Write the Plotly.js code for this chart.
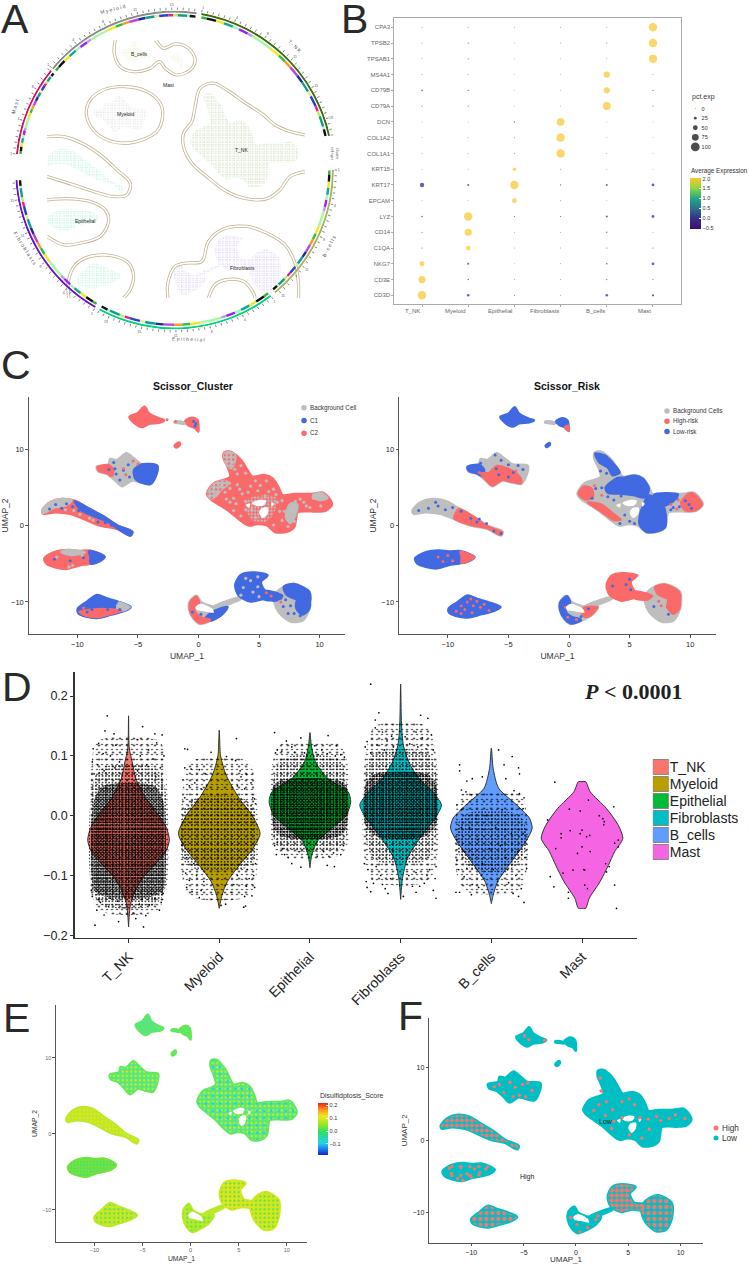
<!DOCTYPE html>
<html><head><meta charset="utf-8"><script src="https://cdn.plot.ly/plotly-3.0.1.min.js"></script>
<style>html,body{margin:0;padding:0;background:#fff}</style></head>
<body><div id="chart" style="width:749px;height:1264px"></div>
<script>
// ---------- DATA: cell types ----------
const cellTypes=['T_NK','Myeloid','Epithelial','Fibroblasts','B_cells','Mast'];
const typeColors=['#F8766D','#B79F00','#00BA38','#00BFC4','#619CFF','#F564E3'];
// ---------- DATA: panel B dot plot ----------
const genes=['CPA3','TPSB2','TPSAB1','MS4A1','CD79B','CD79A','DCN','COL1A2','COL1A1','KRT15','KRT17','EPCAM','LYZ','CD14','C1QA','NKG7','CD3E','CD3D'];
const pctExp=[[1,2,1,1,2,95],[2,5,1,1,3,95],[2,4,1,1,2,93],[2,2,1,1,70,2],[10,7,1,1,68,7],[3,4,1,1,90,3],[0,0,6,85,0,0],[0,1,2,92,1,0],[1,1,2,95,2,1],[0,0,35,2,1,0],[45,15,95,5,14,25],[0,0,50,2,0,0],[10,96,3,3,15,25],[4,80,1,1,6,2],[5,47,1,1,5,5],[52,15,0,1,10,24],[80,8,1,1,5,3],[95,22,3,2,22,18]];
const markerOwner=[5,5,5,4,4,4,3,3,3,2,2,2,1,1,1,0,0,0];
const pctLevels=['0','25','50','75','100'];
const exprLow=-0.4, exprHigh=2.0;
// ---------- DATA: UMAP cluster outlines ----------
const tnk=[[0.72,4.22],[1.27,5.54],[2.04,5.97],[2.65,6.41],[2.37,7.94],[2.10,8.82],[2.15,9.61],[2.65,9.69],[3.06,9.26],[3.61,8.38],[4.03,7.29],[4.44,6.41],[5.41,6.63],[6.10,6.19],[6.57,5.10],[6.92,4.00],[7.89,4.14],[8.99,4.14],[9.68,4.22],[10.23,4.31],[10.79,3.57],[11.0,2.78],[10.51,2.03],[9.68,1.90],[8.86,1.95],[8.17,1.82],[8.03,0.94],[7.89,-0.15],[7.34,-0.72],[6.37,-0.81],[5.68,0.07],[4.86,0.28],[4.17,0.07],[3.48,0.72],[2.65,1.82],[1.82,2.69],[0.99,3.57]];
const tnkHoles=[[[4.4,3.0],[5.0,3.4],[5.6,3.3],[5.4,2.7],[4.8,2.6]],[[5.2,2.3],[5.75,2.4],[5.7,1.5],[5.3,1.0],[5.0,1.7]],[[3.9,2.7],[4.25,2.9],[4.2,2.4]],[[6.0,3.1],[6.25,2.9],[6.05,2.5]]];
const myeloid=[[-8.39,7.72],[-7.42,8.03],[-7.28,8.73],[-6.73,8.60],[-5.96,9.47],[-5.35,8.82],[-4.66,8.03],[-3.42,7.85],[-3.48,6.85],[-3.97,5.54],[-4.80,5.75],[-5.49,5.97],[-6.32,5.23],[-6.87,5.97],[-7.56,6.85],[-8.25,7.15]];
const epi1=[[-12.88,2.03],[-12.25,3.04],[-11.28,3.48],[-10.18,3.22],[-9.08,2.25],[-7.83,1.16],[-6.73,-0.02],[-5.49,-0.81],[-5.63,-1.25],[-6.73,-0.37],[-8.11,0.07],[-9.49,0.94],[-10.59,1.60],[-11.83,1.82],[-12.8,1.60]];
const epi2=[[-12.72,-4.31],[-11.97,-3.52],[-10.73,-3.22],[-9.90,-3.35],[-8.94,-3.30],[-8.25,-3.65],[-7.78,-4.09],[-8.25,-4.66],[-9.08,-4.97],[-9.90,-5.19],[-10.87,-5.62],[-11.83,-5.40],[-12.52,-4.97]];
const epi3=[[-9.96,-10.88],[-9.21,-10.0],[-8.39,-9.12],[-7.56,-9.56],[-6.46,-10.09],[-5.63,-10.66],[-6.18,-11.18],[-7.28,-11.66],[-8.39,-12.06],[-9.35,-11.84],[-9.90,-11.44]];
const mast1=[[-5.68,14.29],[-5.01,14.73],[-4.47,15.6],[-4.11,14.73],[-3.28,14.07],[-2.87,13.85],[-3.28,13.54],[-4.11,13.41],[-4.66,12.98],[-5.21,13.41]];
const mast2=[[-1.08,13.72],[-0.52,14.16],[-0.11,13.85],[-0.03,13.19],[-0.02,12.4],[-0.25,12.84],[-0.80,13.19]];
const mast3=[[-1.95,10.5],[-1.6,10.9],[-1.55,10.65],[-1.85,10.3]];
const mastBridge=[[-1.95,13.65],[-1.5,13.65],[-1.2,13.5],[-1.2,13.4],[-1.6,13.5],[-1.95,13.55]];
const fibro1=[[-0.72,-10.0],[-0.17,-9.21],[0.17,-10.0],[1.27,-10.66],[2.37,-10.66],[1.82,-11.75],[1.0,-12.41],[0.17,-12.85],[-0.39,-12.19],[-0.74,-11.09]];
const fibro1Hole=[[-0.25,-10.66],[0.17,-10.22],[1.13,-10.88],[1.27,-11.4],[0.44,-11.2],[-0.11,-11.09]];
const fibroBridge=[[1.27,-10.62],[3.48,-9.42],[3.52,-9.55],[1.38,-10.74]];
const fibroLeft=[[3.06,-7.81],[3.48,-6.5],[4.44,-6.15],[5.68,-6.5],[5.13,-7.37],[5.54,-8.69],[6.51,-8.91],[6.5,-9.7],[5.41,-9.56],[4.30,-9.91],[3.34,-9.12]];
const fibroRight=[[6.4,-8.9],[7.06,-8.03],[7.89,-7.68],[9.13,-8.69],[9.13,-10.88],[8.58,-12.41],[7.61,-12.54],[6.65,-11.31],[6.29,-10],[6.3,-9.5]];
const allClusters=[tnk,myeloid,epi1,epi2,epi3,mast1,mast2,mast3,mastBridge,fibro1,fibroBridge,fibroLeft,fibroRight];
const allHoles=[...tnkHoles,fibro1Hole];
// ---------- DATA: panel A contours (UMAP units) ----------
const contourTop=[[-6.28,15.59],[-6.38,14.11],[-5.81,12.63],[-4.56,12.07],[-3.0,12.44],[-2.13,13.19],[-1.59,12.44],[-0.5,11.70],[0.75,12.26],[1.22,13.37],[0.59,14.67],[-0.66,15.15],[-1.75,14.67],[-2.38,15.41],[-2.53,15.59]];
const contourMyeloid=[[-9.0,7.44],[-8.63,8.93],[-7.38,10.04],[-5.34,10.41],[-3.31,9.85],[-2.06,8.56],[-1.84,7.07],[-2.38,5.41],[-3.78,4.48],[-5.5,4.11],[-7.38,4.67],[-8.47,5.78],[-9.0,7.44]];
const contourEpi1=[[-12.69,4.85],[-11.13,4.85],[-9.41,4.11],[-7.69,2.81],[-6.13,1.15],[-4.88,-0.33],[-5.19,-1.63],[-6.59,-1.81],[-8.31,-1.26],[-10.19,-0.52],[-12.69,0.41]];
const contourEpi2=[[-12.69,-2.19],[-10.81,-2.07],[-8.63,-2.37],[-7.22,-3.30],[-6.91,-4.59],[-7.69,-6.26],[-9.56,-7.0],[-11.13,-7.19],[-12.69,-6.26]];
const contourEpi3=[[-10.66,-13.11],[-10.66,-11.07],[-10.03,-9.41],[-8.63,-8.48],[-6.59,-8.41],[-5.03,-9.22],[-4.56,-10.70],[-4.88,-12.19],[-5.5,-13.11]];
const contourTnk=[[11.53,5.04],[10.13,5.41],[8.72,6.15],[7.63,7.26],[5.75,8.74],[4.19,10.04],[2.94,10.78],[1.69,10.22],[1.22,8.19],[0.91,6.52],[0.13,5.22],[0.13,3.74],[0.91,1.89],[2.31,0.41],[4.19,-1.26],[6.06,-2.07],[7.94,-2.07],[9.19,-1.07],[10.13,0.41],[11.53,0.96]];
const contourFibro=[[-1.34,-13.11],[-1.34,-11.44],[-0.66,-9.59],[0.44,-9.22],[1.84,-9.04],[2.47,-6.81],[3.88,-5.44],[6.06,-5.15],[7.94,-5.89],[9.66,-7.19],[10.59,-9.22],[10.91,-11.44],[10.91,-13.11]];
const contourArch=[[2.47,-13.11],[3.09,-11.63],[4.19,-11.07],[5.75,-11.26],[6.69,-12.56],[6.84,-13.11]];
const allContours=[contourTop,contourMyeloid,contourEpi1,contourEpi2,contourEpi3,contourTnk,contourFibro,contourArch];
const aLabels=[['T_NK',5.6,3.4],['Fibroblasts',5.7,-9.8],['Epithelial',-9.1,-4.5],['Myeloid',-5.35,7.35],['B_cells',-4.0,14.0],['Mast',-1.3,10.6]];
// ---------- DATA: panel A ring ----------
const sectorNames=['T_NK','B_cells','Epithelial','Fibroblasts','Mast','Myeloid'];
const sectorStart=[9.8,90,142.6,210,275.8,309.8];
const sectorEnd=[77.5,140.6,208.3,266.4,308.8,368];
const sectorColors=['#3c6a0d','#a9b25f','#00d27f','#6a10d0','#d6105f','#8a8a8a'];
const ringColors=['#35b02f','#111111','#f0ea20','#12a98c','#a7f3c8','#a020f0','#b79cf0','#a8f8a0','#f0ea20','#2cc040','#f0a020','#c040e0','#1a2a90','#109a90','#e0f090','#2a40d0','#f01a90','#b8f060','#10a080','#b0f0d0','#111111'];
const ringShare=[2,3.5,3,3.5,2.5,3.5,2,8,4,3,3,4,3,4,2,4,2,2,4,1,2.5];
// ---------- DATA: panel C patches ----------
const pEpi1Upper=[[-10.2,3.2],[-9.1,2.25],[-7.8,1.16],[-6.7,-0.02],[-5.49,-0.81],[-5.63,-1.25],[-6.6,-0.4],[-7.4,0.5],[-8.6,1.3],[-9.6,2.0]];
const pEpi1Tip=[[-12.88,2.03],[-12.25,3.04],[-11.28,3.48],[-10.5,3.3],[-11,2.7],[-12,2.4],[-12.8,1.7]];
const pEpi1Right=[[-9.1,2.25],[-7.8,1.16],[-6.73,-0.02],[-5.49,-0.81],[-5.63,-1.25],[-6.73,-0.37],[-8.11,0.07],[-9.49,0.94]];
const pEpi2Top=[[-11.3,-3.45],[-10.73,-3.22],[-9.90,-3.35],[-9.4,-3.5],[-10.5,-3.8]];
const pEpi2Tip=[[-9.0,-3.35],[-8.25,-3.65],[-7.78,-4.09],[-8.25,-4.66],[-8.9,-4.9],[-8.9,-4.1]];
const pEpi3Low=[[-9.9,-11.3],[-8.7,-10.9],[-7.2,-10.9],[-6.3,-11.2],[-7.3,-11.66],[-8.39,-12.06],[-9.35,-11.84]];
const pEpi3Grey=[[-6.6,-10.0],[-5.63,-10.66],[-6.18,-11.18],[-6.9,-11.2],[-6.7,-10.6]];
const pMyelLeft=[[-8.39,7.72],[-7.42,8.03],[-7.0,7.4],[-7.1,6.5],[-7.6,6.85],[-8.25,7.15]];
const pMyelRight=[[-5.3,7.3],[-4.66,8.03],[-3.42,7.85],[-3.48,6.85],[-3.97,5.54],[-4.80,5.75],[-5.2,6.2]];
const pMyelLower=[[-7.3,6.9],[-6.6,7.0],[-6.0,7.9],[-5.1,7.6],[-4.3,6.9],[-3.9,6.0],[-3.97,5.54],[-4.80,5.75],[-5.49,5.97],[-6.32,5.23],[-6.87,5.97]];
const pFibro1Rim=[[-0.72,-10.0],[-0.17,-9.21],[0.1,-10.1],[-0.3,-10.6],[-0.2,-11.4],[0.3,-12.0],[0.9,-12.2],[1.0,-12.41],[0.17,-12.85],[-0.39,-12.19],[-0.74,-11.09]];
const pFibro1Blue=[[1.0,-11.5],[1.8,-10.9],[2.37,-10.66],[1.82,-11.75],[1.0,-12.41],[0.6,-12.2]];
const pFibro1End=[[1.2,-10.7],[2.37,-10.66],[1.82,-11.75],[1.3,-12.0],[1.0,-11.3]];
const pRightUp=[[7.06,-8.03],[7.89,-7.68],[9.13,-8.69],[9.13,-10.0],[8.1,-9.6],[7.3,-9.0]];
const pRightMid=[[8.2,-9.7],[9.13,-9.9],[9.13,-10.88],[8.6,-11.6],[8.1,-10.8]];
const pBridgeLeftLobe=[[5.4,-8.6],[6.5,-8.9],[6.9,-9.2],[6.5,-9.7],[5.4,-9.56]];
const pTnkLeft=[[0.72,4.22],[1.27,5.54],[2.04,5.97],[2.65,5.6],[1.9,4.7],[1.5,3.9],[1.0,3.5]];
const pTnkTop=[[2.15,9.61],[2.65,9.69],[3.06,9.26],[3.0,8.2],[2.7,7.5],[2.3,8.0],[2.1,8.82]];
const pTnkRight=[[9.5,4.2],[10.23,4.31],[10.7,3.6],[10.0,3.3],[9.4,3.7]];
const pTnkMid=[[7.6,3.0],[8.2,2.8],[8.03,1.3],[7.6,0.3],[7.2,1.0],[7.3,2.2]];
const pTnkHoleEdge=[[3.9,3.0],[4.6,3.9],[6.3,3.9],[6.4,2.5],[6.1,1.3],[5.3,0.4],[4.3,0.9],[4.0,1.9]];
const pRiskCentre=[[3.0,5.0],[4.0,6.3],[4.6,6.35],[5.41,6.6],[6.1,6.19],[6.6,4.9],[6.3,3.7],[5.3,4.0],[4.2,4.2],[3.2,4.3]];
const pRiskTop=[[2.15,9.5],[3.0,9.2],[3.6,8.3],[4.2,7.0],[3.6,6.6],[3.2,7.6],[2.5,8.3]];
const pRiskBlob=[[6.5,4.0],[7.4,3.5],[7.9,2.2],[7.95,-0.2],[7.34,-0.72],[6.37,-0.81],[5.8,0.2],[5.9,1.8],[6.2,3.0]];
const pRiskStrip=[[7.0,4.1],[9.0,4.14],[8.6,3.2],[7.8,2.6],[7.4,3.2]];
const pRiskLeftRed=[[0.75,4.2],[1.2,5.2],[1.9,4.9],[2.0,3.7],[1.3,3.4]];
const pRiskLowRed=[[1.5,3.1],[2.6,2.9],[3.7,1.6],[4.3,0.8],[3.7,0.7],[2.65,1.8]];
const pRiskEndRed=[[9.8,4.2],[10.23,4.31],[11,2.8],[10.5,2.03],[9.6,1.95],[9.2,3.0]];
const pRiskMast2Tail=[[-0.4,12.9],[-0.03,13.2],[-0.02,12.4],[-0.25,12.6]];
// ---------- DATA: panel C speckles ----------
const c1GreyDots=[[1.2,4.6],[1.9,5.3],[2.6,4.9],[3.2,5.4],[3.6,4.2],[2.9,3.6],[3.9,3.2],[4.9,4.6],[5.5,3.9],[6.2,4.8],[5.6,5.9],[3.0,7.4],[3.5,7.9],[7.7,2.7],[7.4,1.3],[8.4,3.5],[8.9,2.6],[9.5,3.6],[6.7,1.9],[4.7,1.1],[5.2,1.6],[3.5,1.3],[2.9,2.0],[6.9,3.3],[7.9,0.6],[3.1,2.9],[4.4,2.1],[9.9,3.9],[2.3,3.5],[4.3,5.2],[6.5,3.1],[1.5,4.2],[2.2,4.4],[3.9,2.1],[5.1,5.3],[8.0,3.2],[3.4,4.8],[2.6,3.1],[4.1,4.4],[5.8,4.5],[6.4,4.1],[7.1,1.9],[6.9,0.7],[6.2,0.1],[7.4,-0.1],[8.7,3.1],[9.2,2.4],[10.1,2.6],[4.7,5.9],[3.9,6.9],[3.2,6.8],[2.8,8.3],[-11.5,3.1],[-9.8,1.5],[-10.3,2.0],[-12.2,2.2],[-11.0,2.1],[-8.7,0.7],[-9.0,1.0],[-11.7,-4.1],[-10.4,-5.2],[-9.6,-3.9],[-10.7,-5.4],[-6.7,-10.5],[-5.9,-10.8],[0.4,-11.7],[0.9,-10.5],[1.5,-10.6],[3.7,-8.1],[4.3,-7.2],[4.5,-8.7],[3.5,-9.1],[5.0,-9.3],[4.9,-6.7],[3.9,-6.9],[4.9,-8.0]];
const c1BlueDots=[[-7.0,8.3],[-7.4,7.4],[-6.8,6.8],[-6.2,7.3],[-5.8,8.0],[-6.5,6.0],[-5.7,6.4],[-5.2,7.0],[-6.9,7.5],[-12.3,2.2],[-11.8,2.8],[-11.3,2.3],[-10.9,2.9],[-10.4,2.5],[-9.9,2.0],[-8.3,0.5],[-7.7,0.4],[-7.2,0.1],[-11.9,-4.4],[-10.6,-4.6],[-9.5,-4.2],[-9.2,-11.3],[-8.8,-11.0],[-7.5,-11.0],[-6.5,-11.0],[-0.5,-11.3],[0.2,-11.6],[-0.2,13.4],[-0.4,13.7],[7.2,-9.7],[7.6,-10.5],[7.0,-10.6],[7.9,-11.5],[8.4,-11.8],[7.4,-11.5],[8.6,-10.9],[7.5,-8.6],[6.8,-9.5],[8.9,-11.2],[-0.3,13.1]];
const c1RedDots=[[-6.2,7.5],[-5.4,8.5],[-5.0,8.1],[-7.3,6.6],[-6.0,6.7],[-8.0,-11.3],[-9.5,-10.8],[5.6,-8.8],[6.0,-9.2],[6.8,-10.0],[-2.9,13.8],[-2.6,13.9],[-1.9,13.7]];
const c2BlueDots=[[3.2,3.8],[3.7,3.4],[4.3,3.9],[5.0,4.4],[2.2,4.9],[2.7,5.0],[1.9,3.6],[3.6,5.5],[3.1,6.9],[2.6,7.2],[3.9,4.6],[9.6,3.3],[9.9,2.8],[10.1,2.3],[9.1,2.5],[8.6,2.4],[8.4,2.1],[4.2,0.3],[5.0,0.6],[4.6,1.4],[5.4,0.3],[8.9,3.6],[7.1,0.6],[6.3,5.5],[-7.3,8.2],[-6.1,9.3],[-5.6,8.6],[-5.0,8.0],[-4.2,7.9],[-6.0,7.5],[-4.6,7.0],[-3.8,7.4],[-5.8,6.7],[-5.0,6.4],[-11.6,2.3],[-10.8,2.6],[-11.0,3.1],[-9.6,2.4],[-8.9,1.9],[-8.1,1.0],[-7.4,0.9],[-7.6,0.5],[-6.8,0.3],[-6.2,-0.7],[-12.4,2.0],[-10.2,2.1],[-9.6,-3.7],[-5.6,-1.0],[3.6,-7.9],[4.7,-7.7],[5.1,-8.4],[5.0,-7.0],[7.0,-10.6],[8.2,-11.6],[1.0,-11.9],[1.6,-10.9]];
const c2RedDots=[[-10.8,-4.1],[-10.0,-3.9],[-9.6,-4.6],[-10.4,-4.7],[-8.9,-10.5],[-8.4,-10.0],[-7.9,-10.5],[-8.6,-11.0],[-8.0,-11.4],[-7.3,-10.7],[-9.3,-11.2],[-8.1,-9.6],[-7.0,-10.3],[-6.6,-11.1],[-8.9,-11.5],[-7.6,-9.9],[2.1,5.3],[2.7,4.0],[8.4,2.8],[9.0,3.4],[8.9,2.2],[-0.3,-10.7],[-0.1,-12.0],[0.6,-12.3],[7.6,-10.5],[8.1,-10.6],[8.7,-11.1],[7.4,-9.9],[-4.4,7.2],[-7.4,7.0]];
// ---------- DATA: panel F speckles ----------
const fHighDots=[[1.7,4.1],[2.2,4.9],[2.9,5.3],[3.5,4.2],[4.4,5.3],[5.1,5.7],[5.6,4.9],[2.8,3.4],[3.6,2.6],[4.4,3.1],[6.1,3.1],[6.9,2.9],[7.7,3.3],[8.1,2.7],[8.9,3.0],[9.5,3.5],[10.4,3.0],[7.0,1.5],[6.3,0.3],[5.1,0.7],[3.4,1.6],[2.3,8.6],[2.4,6.8],[-5.8,7.3],[-6.3,8.0],[-5.4,6.2],[-7.3,7.7],[-6.9,6.6],[-4.6,7.9],[-4.2,6.9],[-4.8,6.0],[-5.1,7.7],[-7.8,7.4],[-6.0,6.0],[-4.5,13.9],[-4.9,14.4],[-3.0,13.8],[-11.9,-4.6],[-11.3,-5.3],[-10.8,-5.6],[-10.4,-4.7],[-9.7,-4.0],[-9.2,-4.5],[-8.6,-4.0],[-11.0,-3.8],[-12.1,-3.9],[-10.0,-5.1],[1.9,-11.0],[1.1,-12.1],[0.4,-12.7],[-0.5,-10.7],[2.1,-10.5],[0.1,-11.7]];
// ---------- DATA: panel D violins: [value, half width] ----------
const vTNK=[[0.167,0],[0.113,0.008],[0.09,0.04],[0.062,0.08],[0.029,0.19],[0.001,0.33],[-0.021,0.42],[-0.041,0.45],[-0.06,0.41],[-0.083,0.28],[-0.105,0.15],[-0.127,0.07],[-0.149,0.02],[-0.186,0]];
const vMyeloid=[[0.143,0],[0.10,0.015],[0.068,0.075],[0.029,0.22],[0.001,0.36],[-0.03,0.45],[-0.055,0.37],[-0.083,0.22],[-0.11,0.09],[-0.133,0.03],[-0.155,0]];
const vEpithelial=[[0.139,0],[0.118,0.015],[0.09,0.06],[0.062,0.2],[0.04,0.42],[0.023,0.45],[0.001,0.4],[-0.021,0.24],[-0.043,0.08],[-0.066,0.02],[-0.087,0]];
const vFibroblasts=[[0.22,0],[0.152,0.01],[0.118,0.03],[0.09,0.09],[0.062,0.2],[0.04,0.35],[0.018,0.45],[-0.004,0.38],[-0.038,0.21],[-0.071,0.075],[-0.105,0.02],[-0.14,0]];
const vBcells=[[0.113,0],[0.079,0.02],[0.046,0.08],[0.018,0.28],[-0.004,0.42],[-0.021,0.45],[-0.043,0.38],[-0.077,0.22],[-0.11,0.07],[-0.133,0.02],[-0.147,0]];
const vMast=[[0.057,0],[0.057,0.04],[0.04,0.09],[0.012,0.27],[-0.016,0.4],[-0.038,0.45],[-0.06,0.36],[-0.083,0.29],[-0.11,0.2],[-0.138,0.08],[-0.155,0.04],[-0.155,0]];
const violins=[vTNK,vMyeloid,vEpithelial,vFibroblasts,vBcells,vMast];
// jitter cloud extents: [value, half width]
const cloudDense=[[[0.05,0.28],[0.03,0.37],[0,0.405],[-0.1,0.405],[-0.125,0.38],[-0.135,0.26]],[],[[0.06,0.3],[0.05,0.4],[-0.02,0.4],[-0.035,0.3]],[[0.07,0.28],[0.055,0.38],[-0.015,0.39],[-0.035,0.26]],[],[]];
const cloudMedium=[[[0.08,0.3],[0.05,0.4],[-0.125,0.4],[-0.15,0.28]],[[0.03,0.25],[0.01,0.39],[-0.075,0.39],[-0.09,0.25]],[[0.095,0.32],[0.06,0.4],[-0.035,0.4],[-0.055,0.32]],[[0.105,0.3],[0.07,0.39],[-0.04,0.38],[-0.075,0.28]],[[0.005,0.25],[-0.01,0.36],[-0.06,0.37],[-0.09,0.22]],[]];
const cloudSparse=[[[0.125,0.34],[0.08,0.41],[-0.13,0.41],[-0.16,0.3]],[[0.09,0.32],[0.03,0.41],[-0.1,0.41],[-0.135,0.32]],[[0.12,0.32],[0.09,0.41],[-0.05,0.41],[-0.068,0.3]],[[0.15,0.28],[0.1,0.39],[-0.07,0.4],[-0.11,0.3]],[[0.035,0.33],[0.0,0.39],[-0.09,0.39],[-0.125,0.3]],[]];
const jitT=[[-0.235,0.167],[-0.26,0.142],[0.155,0.149],[0.29,0.137],[0.37,0.135],[-0.33,0.121],[-0.14,0.118],[-0.37,-0.183],[0.165,-0.186],[-0.11,-0.177],[-0.35,-0.158],[0.34,-0.158],[0.05,-0.163],[-0.22,-0.152],[0.23,-0.149],[0.29,-0.138],[0.08,-0.172],[-0.27,-0.166],[0.19,-0.167],[-0.05,-0.154],[0.12,-0.148],[-0.31,-0.145],[0.36,-0.145],[-0.39,0.112],[-0.16,0.137],[0.1,0.127],[0.22,0.11],[0.31,0.122],[-0.28,0.104],[-0.4,0.09],[-0.34,0.085],[-0.2,0.1],[-0.1,0.09],[0.13,0.1],[0.2,0.085],[0.27,0.095],[0.39,0.1],[0.35,0.08],[-0.38,0.07],[-0.27,0.075],[-0.15,0.08],[0.1,0.075],[0.3,0.065],[-0.4,-0.135],[-0.33,-0.14],[-0.2,-0.138],[-0.12,-0.143],[0.15,-0.14],[0.25,-0.13],[0.38,-0.13],[-0.41,-0.125]];
const jitM=[[-0.38,0.112],[-0.35,0.111],[0.19,0.129],[0.08,0.099],[-0.09,0.106],[0.18,0.092],[0.23,0.075],[-0.38,0.08],[-0.31,0.078],[-0.22,0.077],[-0.15,0.07],[0.3,0.069],[0.37,0.03],[0.39,0.028],[0.3,-0.118],[0.28,-0.135],[0.27,-0.153],[0.29,-0.151],[0.07,-0.148],[0.02,-0.15],[-0.22,-0.137],[-0.2,-0.125],[-0.36,-0.12],[-0.3,-0.127],[0.39,-0.12],[0.36,-0.134],[0.13,-0.128],[-0.37,-0.096],[-0.33,-0.108],[-0.25,-0.1],[0.33,-0.105],[0.38,-0.1],[-0.4,0.06],[-0.33,0.05],[-0.27,0.055],[-0.2,0.045],[0.2,0.05],[0.28,0.045],[0.35,0.055],[0.4,0.02],[-0.38,0.03],[-0.3,0.025],[0.24,0.065],[-0.14,0.05],[-0.41,-0.05],[-0.36,-0.07],[0.4,-0.08],[0.31,-0.09],[-0.28,-0.08],[0.2,-0.1],[-0.17,-0.11],[0.16,-0.115]];
const jitE=[[-0.39,0.139],[-0.1,0.13],[0.2,0.134],[0.29,0.117],[-0.36,0.11],[-0.26,0.125],[0.05,0.117],[0.34,0.102],[-0.2,0.115],[0.13,0.11],[-0.37,-0.065],[-0.3,-0.055],[0.21,-0.068],[0.27,-0.085],[0.19,-0.083],[-0.2,-0.08],[-0.1,-0.086],[0.37,-0.05],[-0.36,-0.045],[0.15,-0.06],[0.34,-0.065],[-0.38,0.105],[-0.31,0.108],[-0.17,0.106],[-0.06,0.105],[0.09,0.102],[0.19,0.104],[0.28,0.1],[0.38,0.098],[-0.28,-0.065],[-0.24,-0.07],[-0.12,-0.06],[0.08,-0.068],[0.26,-0.062],[-0.39,-0.05]];
const jitF=[[-0.33,0.22],[-0.24,0.172],[0.22,0.168],[0.3,0.163],[-0.28,0.16],[-0.28,0.147],[-0.2,0.14],[0.17,0.14],[0.24,0.13],[0.34,0.135],[-0.1,0.133],[-0.37,0.124],[-0.15,0.125],[0.05,0.132],[-0.38,-0.11],[-0.37,-0.12],[-0.33,-0.127],[-0.14,-0.13],[-0.17,-0.122],[0.03,-0.135],[0.39,-0.138],[0.36,-0.125],[0.26,-0.113],[0.21,-0.118],[0.13,-0.118],[0.17,-0.128],[-0.3,-0.113],[-0.22,-0.1],[0.32,-0.09],[0.38,-0.105],[-0.39,0.115],[-0.33,0.105],[-0.26,0.118],[-0.18,0.11],[-0.08,0.115],[0.1,0.12],[0.19,0.115],[0.28,0.112],[0.36,0.11],[-0.4,-0.08],[-0.36,-0.09],[-0.27,-0.085],[-0.2,-0.115],[-0.11,-0.105],[0.09,-0.1],[0.17,-0.095],[0.29,-0.1],[0.39,-0.085]];
const jitB=[[-0.35,0.085],[-0.35,0.075],[0.08,0.11],[0.23,0.099],[0.14,0.085],[0.3,0.08],[0.31,0.07],[-0.21,0.062],[-0.27,0.058],[-0.1,0.065],[0.16,0.062],[-0.33,0.043],[-0.28,0.04],[-0.22,0.035],[0.25,0.042],[0.31,0.037],[0.36,0.03],[-0.38,0.018],[-0.33,0.01],[0.35,0.012],[-0.38,-0.075],[-0.36,-0.09],[-0.39,-0.128],[-0.35,-0.128],[-0.22,-0.132],[-0.21,-0.115],[-0.14,-0.12],[0.19,-0.112],[0.24,-0.13],[0.33,-0.122],[0.36,-0.145],[0.3,-0.135],[0.27,-0.1],[0.39,-0.088],[0.37,-0.07],[-0.3,-0.102],[-0.27,-0.088],[-0.3,-0.06],[-0.38,-0.04],[-0.33,-0.02],[-0.24,-0.02],[-0.15,-0.04],[-0.17,-0.005],[-0.05,0.0],[0.05,-0.02],[0.12,0.01],[-0.02,-0.055],[0.1,-0.05],[0.22,-0.03],[0.16,-0.07],[-0.1,-0.08],[0.02,-0.09],[0.07,-0.11],[0.29,-0.06],[0.35,-0.03],[-0.2,-0.065],[-0.11,-0.1],[0.18,-0.09]];
const jitMast=[[-0.30,0.056],[0.07,0.026],[0.35,0.015],[0.19,0],[-0.14,0.011],[-0.02,0.008],[-0.38,-0.007],[0.245,-0.01],[0,-0.024],[-0.13,-0.025],[0.085,-0.033],[-0.23,-0.037],[0.40,-0.041],[0.36,-0.046],[0,-0.052],[-0.05,-0.063],[-0.29,-0.055],[0.30,-0.085],[0.27,-0.094],[-0.10,-0.091],[0.03,-0.091],[-0.21,-0.096],[-0.35,-0.102],[-0.31,-0.119],[-0.15,-0.128],[0.03,-0.116],[0.36,-0.116],[0.38,-0.155],[-0.15,-0.138],[0.26,-0.08],[0.40,-0.052],[0.23,-0.005],[0.24,-0.015],[-0.02,-0.03],[0.05,-0.035],[-0.23,-0.03],[0.02,-0.09],[0.09,-0.06],[0.06,-0.122]];
const jitter=[jitT,jitM,jitE,jitF,jitB,jitMast];
// ---------- DATA: legends ----------
const c1Legend=['Background Cell','C1','C2'], c2Legend=['Background Cells','High-risk','Low-risk'], fLegend=['High','Low'];
const grey='#BEBEBE', blue='#4169E1', red='#FB6A6A', fRed='#F8766D', fCyan='#00BFC4';

// ---------- helpers ----------
const W=749,H=1264;
const dX=(a,b)=>[a/W,b/W], dY=(a,b)=>[1-b/H,1-a/H];
const font='Liberation Sans, Arial, sans-serif';
const join=l=>{const x=[],y=[];l.forEach((p,i)=>{if(i){x.push(null);y.push(null);}p.forEach(q=>{x.push(q[0]);y.push(q[1]);});x.push(p[0][0]);y.push(p[0][1]);});return{x,y};};
const traces=[];
const poly=(ax,l,color,lw=3)=>{const j=join(l);traces.push({type:'scatter',mode:lw?'lines':'none',x:j.x,y:j.y,xaxis:'x'+ax,yaxis:'y'+ax,fill:'toself',fillcolor:color,line:{color,width:lw,shape:'spline',smoothing:0.8},hoverinfo:'skip',showlegend:false});};
const pat=(ax,l,color,size,sol)=>{const j=join(l);traces.push({type:'scatter',mode:'none',x:j.x,y:j.y,xaxis:'x'+ax,yaxis:'y'+ax,fill:'toself',fillcolor:'rgba(0,0,0,0)',line:{shape:'spline',smoothing:0.8},fillpattern:{shape:'.',size,solidity:sol,fgcolor:color,bgcolor:'rgba(0,0,0,0)',fgopacity:1},hoverinfo:'skip',showlegend:false});};
const dots=(ax,p,color,size)=>traces.push({type:'scatter',mode:'markers',x:p.map(q=>q[0]),y:p.map(q=>q[1]),xaxis:'x'+ax,yaxis:'y'+ax,marker:{color,size,line:{width:0}},hoverinfo:'skip',showlegend:false});
const annotations=[];
const note=(text,x,y,o={})=>annotations.push(Object.assign({text,x,y,xref:'paper',yref:'paper',showarrow:false,xanchor:'center',yanchor:'middle',font:{family:font,size:8,color:'#222'}},o));
const px=(x,y,text,size,o={})=>note(text,x/W,1-y/H,Object.assign({font:{family:o.family||font,size,color:o.color||'#222'}},o));

// ---------- panel A ----------
const A='';
const aFill=(l,c1)=>{pat(A,l,c1,2.3,0.22);pat(A,l,c1,3.7,0.14);};
aFill([tnk],'#d6e2c8');
aFill([myeloid],'#e8e8e8');
aFill([epi1,epi2,epi3],'#c8f3e3');
aFill([fibro1,fibroBridge,fibroLeft,fibroRight],'#e2d6f6');
aFill([mast1,mast2],'#eef3d6');
allContours.forEach(c=>{
 const t={type:'scatter',mode:'lines',x:c.map(q=>q[0]),y:c.map(q=>q[1]),line:{shape:'spline',smoothing:1,color:'#bfb08f',width:3.2},hoverinfo:'skip',showlegend:false};
 traces.push(t);
 traces.push(Object.assign({},t,{line:{shape:'spline',smoothing:1,color:'#ffffff',width:1.7}}));
});
aLabels.forEach(l=>annotations.push({text:l[0],x:l[1],y:l[2],xref:'x',yref:'y',showarrow:false,font:{family:font,size:5,color:'#222'}}));
// ring
const rTheta=[],rWidth=[],rColor=[],rBase=[],rThick=[];
sectorStart.forEach((s,i)=>{const e=sectorEnd[i];
 rTheta.push((s+e)/2);rWidth.push(e-s);rColor.push(sectorColors[i]);rBase.push(157.4);rThick.push(2);
 const tot=ringShare.reduce((a,b)=>a+b,0);let a=s+0.2;const span=e-s-0.4;
 ringShare.forEach((w,k)=>{const d=span*w/tot;rTheta.push(a+d/2);rWidth.push(d);rColor.push(ringColors[k]);rBase.push(153.6);rThick.push(2.4);a+=d;});
});
traces.push({type:'barpolar',theta:rTheta,width:rWidth,base:rBase,r:rThick,marker:{color:rColor,line:{width:0}},subplot:'polar',hoverinfo:'skip',showlegend:false});
const tickV=[],tickT=[];
sectorStart.forEach((s,i)=>{let n=0;for(let a=s;a<=sectorEnd[i]+0.01;a+=2.05){tickV.push(a%360);tickT.push(n%6===0?String(1+n*0.6|0):'');n++;}});

// ---------- panel B ----------
const bx=[],by=[],bs=[],bc=[];
genes.forEach((g,r)=>cellTypes.forEach((c,k)=>{bx.push(c);by.push(g);bs.push(0.8+0.08*pctExp[r][k]);bc.push(markerOwner[r]===k?exprHigh:exprLow);}));
const viridisGold=[[0,'#3b0f70'],[0.2,'#3a2f85'],[0.4,'#2a6f8e'],[0.6,'#22a884'],[0.8,'#8fd744'],[1,'#fdc52a']];
traces.push({type:'scatter',mode:'markers',x:bx,y:by,xaxis:'x2',yaxis:'y2',hoverinfo:'skip',showlegend:false,marker:{size:bs,color:bc,cmin:-0.55,cmax:2.03,colorscale:viridisGold,line:{width:0},
 colorbar:{x:690/W,xanchor:'left',y:1-178/H,yanchor:'top',len:51,lenmode:'pixels',thickness:10.5,thicknessmode:'pixels',xpad:0,ypad:0,outlinewidth:0,ticks:'inside',ticklen:2,tickcolor:'#fff',tickvals:[2,1.5,1,0.5,0,-0.5],ticktext:['2.0','1.5','1.0','0.5','0.0','−0.5'],tickfont:{family:font,size:5.5,color:'#333'}}}});
traces.push({type:'scatter',mode:'markers',x:pctLevels.map(()=>0),y:pctLevels,xaxis:'x8',yaxis:'y8',marker:{color:'#000',size:pctLevels.map(v=>0.8+0.08*(+v)),line:{width:0}},hoverinfo:'skip',showlegend:false});
cellTypes.forEach(c=>annotations.push({text:c,x:c,y:1-306/H,xref:'x2',yref:'paper',yanchor:'top',xanchor:'right',showarrow:false,font:{family:font,size:6,color:'#666'}}));
px(690,97,'pct.exp',7,{xanchor:'left',color:'#333'});
px(689,171,'Average Expression',6.3,{xanchor:'left',color:'#333'});

// ---------- panel C left (3) ----------
poly(3,[tnk,mast1,mast2,mast3,epi1,epi2],red);
poly(3,[myeloid,fibro1,fibroBridge,fibroRight,pEpi1Tip,pEpi2Top,mastBridge],grey);
poly(3,[fibroLeft,epi3,pMyelRight,pEpi1Upper,pEpi2Tip,pFibro1Blue,pRightUp,pRightMid,pBridgeLeftLobe],blue);
poly(3,[pTnkLeft,pTnkTop,pTnkRight,pTnkMid,pEpi3Grey],grey,1.2);
poly(3,[pMyelLeft,pFibro1Rim,pEpi3Low],red,1.2);
pat(3,[pTnkLeft,pTnkTop],red,4.3,0.3);
pat(3,[pTnkHoleEdge],grey,3.3,0.4);
dots(3,c1GreyDots,grey,3.2);dots(3,c1BlueDots,blue,3);dots(3,c1RedDots,red,3);
poly(3,allHoles,'#ffffff',0);
// ---------- panel C right (4) ----------
poly(4,[tnk,myeloid,epi1,fibro1,fibroBridge,fibroRight,mastBridge],grey);
poly(4,[mast1,mast2,mast3,epi2,epi3,pRiskCentre,pRiskTop,pRiskBlob,pRiskStrip,pMyelLeft,pFibro1Rim],blue,2);
poly(4,[fibroLeft,pRightUp,pRightMid,pMyelLower,pEpi1Right,pEpi2Tip,pRiskLeftRed,pRiskLowRed,pRiskEndRed,pFibro1End,pRiskMast2Tail,pBridgeLeftLobe],red,1.4);
poly(4,[pEpi1Tip],grey,1.2);
dots(4,c2BlueDots,blue,3);dots(4,c2RedDots,red,3);
poly(4,allHoles,'#ffffff',0);

// ---------- panel D ----------
violins.forEach((v,k)=>{
 const x=[...v.map(q=>k-q[1]),...v.slice().reverse().map(q=>k+q[1])];
 const y=[...v.map(q=>q[0]),...v.slice().reverse().map(q=>q[0])];
 traces.push({type:'scatter',mode:'lines',x,y,xaxis:'x5',yaxis:'y5',fill:'toself',fillcolor:typeColors[k],line:{color:'#333',width:1,shape:'spline',smoothing:0.7},hoverinfo:'skip',showlegend:false});
});
const cloudPoly=(c,k)=>[...c.map(q=>[k-q[1],q[0]]),...c.slice().reverse().map(q=>[k+q[1],q[0]])];
cloudSparse.forEach((c,k)=>{if(c.length){pat(5,[cloudPoly(c,k)],'#000',5,0.08);pat(5,[cloudPoly(c,k)],'#000',7,0.05);}});
cloudMedium.forEach((c,k)=>{if(c.length){pat(5,[cloudPoly(c,k)],'#000',3.3,0.2);}});
cloudDense.forEach((c,k)=>{if(c.length){pat(5,[cloudPoly(c,k)],'#000',2.3,0.42);pat(5,[cloudPoly(c,k)],'#000',3.1,0.24);}});
jitter.forEach((j,k)=>dots(5,j.map(q=>[k+q[0],q[1]]),'#000',1.7));
traces.push({type:'bar',orientation:'h',x:cellTypes.map(()=>1),y:cellTypes,xaxis:'x11',yaxis:'y11',marker:{color:typeColors,line:{color:'#888',width:1}},width:0.88,hoverinfo:'skip',showlegend:false});
px(633,691,'<b><i>P</i> &lt; 0.0001</b>',22,{family:'Liberation Serif, serif',color:'#222'});

// ---------- panel E (6) ----------
poly(6,[tnk,myeloid,mast1,mast2,mast3,mastBridge],'#62e85a');
poly(6,[epi2],'#74e23a');
poly(6,[epi1,epi3,fibro1,fibroBridge],'#b8ea28');
poly(6,[fibroLeft,fibroRight],'#d2e81e');
pat(6,[tnk,myeloid,mast1],'#3fe0c8',3.3,0.3);
pat(6,[tnk,myeloid],'#bfee30',4.3,0.25);
pat(6,[tnk],'#20d0e8',7.3,0.1);
pat(6,[epi1,epi3,fibroLeft],'#f0e020',3.7,0.3);
pat(6,[fibroRight,fibroLeft,epi3,fibro1],'#58e050',4.3,0.2);
pat(6,[epi2],'#3be080',3.3,0.25);
poly(6,allHoles,'#ffffff',0);
traces.push({type:'scatter',mode:'markers',x:[0,0],y:[-20,-20],xaxis:'x6',yaxis:'y6',hoverinfo:'skip',showlegend:false,marker:{size:1,color:[-0.186,0.22],cmin:-0.186,cmax:0.22,colorscale:[[0,'#1a20e0'],[0.22,'#20d0f0'],[0.45,'#30e060'],[0.6,'#9ee820'],[0.75,'#f0e820'],[0.88,'#f89020'],[1,'#f02010']],
 colorbar:{x:318/W,xanchor:'left',y:1-1103/H,yanchor:'top',len:52,lenmode:'pixels',thickness:10,thicknessmode:'pixels',xpad:0,ypad:0,outlinewidth:0,ticks:'inside',ticklen:2,tickcolor:'#fff',tickvals:[0.2,0.1,0,-0.1],ticktext:['0.2','0.1','0.0','−0.1'],tickfont:{family:font,size:5.5,color:'#333'}}}});
px(318,1096,'Disulfidptosis_Score',7,{xanchor:'left',color:'#333'});

// ---------- panel F (7) ----------
poly(7,allClusters,fCyan,3);
pat(7,[epi1],fRed,5,0.5);
pat(7,[fibroLeft],fRed,5,0.58);
pat(7,[fibroRight,epi3],fRed,6,0.42);
pat(7,[epi2],fRed,9,0.12);
poly(7,allHoles,'#ffffff',0);
dots(7,fHighDots,fRed,3.4);
annotations.push({text:'Low',x:2.87,y:2.6,xref:'x7',yref:'y7',showarrow:false,font:{family:font,size:7,color:'#222'}});
annotations.push({text:'High',x:-4.6,y:-5.1,xref:'x7',yref:'y7',showarrow:false,font:{family:font,size:7,color:'#222'}});

// ---------- legends ----------
const leg=(ax,names,cols,size)=>traces.push({type:'scatter',mode:'markers',x:names.map(()=>0),y:names,xaxis:'x'+ax,yaxis:'y'+ax,marker:{color:cols,size,line:{width:0}},hoverinfo:'skip',showlegend:false});
leg(9,c1Legend,[grey,blue,red],5.5);
leg(10,c2Legend,[grey,red,blue],5.5);
leg(12,fLegend,[fRed,fCyan],5);

// ---------- text labels ----------
[['A',15,19],['B',354,19],['C',16,365],['D',17,687],['E',16,1018],['F',410,1016]].forEach(l=>px(l[1],l[2],l[0],41,{color:'#2a2a2a'}));
px(192.7,386,'<b>Scissor_Cluster</b>',10.5,{color:'#111'});
px(566.7,386,'<b>Scissor_Risk</b>',10.5,{color:'#111'});
[['M y e l o i d',113,9,-14],['T - N K',295,46,44],['B - c e l l s',329,246,-62],['E p i t h e l i a l',188,339,2],['F i b r o b l a s t s',25,248,58],['M a s t',15,106,-74]].forEach(l=>px(l[1],l[2],l[0],5,{textangle:l[3],color:'#555'}));
px(334,153,'Cluster<br>cell type',3.6,{textangle:90,color:'#444'});

// ---------- axes ----------
const umapX=[-14.0,12.1], umapY=[-14.2,16.9];
const umapAxes=(dx,dy,tick,tit,lw,yStand,xStand,col)=>[
 {domain:dx,range:umapX,showgrid:false,zeroline:false,showline:true,linecolor:'#555',linewidth:lw,ticks:'outside',ticklen:2.5,tickcolor:'#555',tickvals:[-10,-5,0,5,10],tickfont:{family:font,size:tick,color:col},title:{text:'UMAP_1',font:{family:font,size:tit,color:'#333'},standoff:xStand}},
 {domain:dy,range:umapY,showgrid:false,zeroline:false,showline:true,linecolor:'#555',linewidth:lw,ticks:'outside',ticklen:2.5,tickcolor:'#555',tickvals:[-10,0,10],tickfont:{family:font,size:tick,color:col},title:{text:'UMAP_2',font:{family:font,size:tit,color:'#333'},standoff:yStand}}];
const hidden=(dom,range)=>({domain:dom,range,visible:false,fixedrange:true});
const miniLeg=(names,d1,d2,size,col)=>[{domain:d1,range:[-1,1],visible:false},{domain:d2,type:'category',categoryorder:'array',categoryarray:names.slice().reverse(),tickmode:'array',tickvals:names,ticktext:names,side:'right',showline:false,showgrid:false,zeroline:false,ticks:'',tickfont:{family:font,size,color:col}}];
const [x3,y3]=umapAxes(dX(29,345),dY(397,634),7.5,8.5,1.2,3,5,'#222');
const [x4,y4]=umapAxes(dX(399.3,715.7),dY(397,634),7.5,8.5,1.2,3,5,'#222');
const [x6,y6]=umapAxes(dX(56,307),dY(1005,1242),5.5,6.8,1.1,3,4,'#666');
const [x7,y7]=umapAxes(dX(429.4,702.6),dY(1018,1242.7),7,8,1.1,3,5,'#222');
[[x3,y3,3],[x4,y4,4],[x6,y6,6],[x7,y7,7]].forEach(a=>{a[0].anchor='y'+a[2];a[1].anchor='x'+a[2];});
const [x9,y9]=miniLeg(c1Legend,dX(299,309),dY(402.5,438.5),6.3,'#333');
const [x10,y10]=miniLeg(c2Legend,dX(662,672),dY(406,436.5),6.3,'#333');
const [x12,y12]=miniLeg(fLegend,dX(711,721),dY(1124,1142),8.2,'#333');
const layout={width:W,height:H,margin:{l:0,r:0,t:0,b:0},paper_bgcolor:'#fff',plot_bgcolor:'rgba(0,0,0,0)',showlegend:false,hovermode:false,bargap:0.1,annotations,
 xaxis:hidden(dX(47,305),[-12.69,11.53]),yaxis:hidden(dY(40,298),[-13.11,15.59]),
 xaxis2:{domain:dX(394.3,680.7),anchor:'y2',type:'category',categoryorder:'array',categoryarray:cellTypes,range:[-0.6,5.6],showgrid:false,zeroline:false,showline:true,mirror:true,linecolor:'#aaa',linewidth:1,ticks:'outside',ticklen:2,tickcolor:'#aaa',showticklabels:false},
 yaxis2:{domain:dY(18.3,304.3),anchor:'x2',type:'category',categoryorder:'array',categoryarray:genes.slice().reverse(),tickmode:'array',tickvals:genes,ticktext:genes,range:[-0.57,17.57],showgrid:false,zeroline:false,showline:true,mirror:true,linecolor:'#aaa',linewidth:1,ticks:'outside',ticklen:2,tickcolor:'#aaa',tickfont:{family:font,size:6,color:'#666'}},
 xaxis3:x3,yaxis3:y3,xaxis4:x4,yaxis4:y4,
 xaxis5:{domain:dX(74.5,637),anchor:'y5',range:[-0.596,5.606],tickvals:[0,1,2,3,4,5],ticktext:cellTypes,tickangle:-45,showgrid:false,zeroline:false,showline:true,linecolor:'#333',linewidth:1.2,ticks:'outside',ticklen:4,tickcolor:'#333',tickfont:{family:font,size:14,color:'#222'}},
 yaxis5:{domain:dY(672,938),anchor:'x5',range:[-0.2045,0.2403],tickvals:[-0.2,-0.1,0,0.1,0.2],ticktext:['−0.2','−0.1','0.0','0.1','0.2'],showgrid:false,zeroline:false,showline:true,linecolor:'#333',linewidth:1.2,ticks:'outside',ticklen:3,tickcolor:'#333',tickfont:{family:font,size:12.5,color:'#222'}},
 xaxis6:x6,yaxis6:y6,xaxis7:x7,yaxis7:y7,
 xaxis8:{domain:dX(690,700.6),range:[-1,1],visible:false},
 yaxis8:{domain:dY(103,155),anchor:'x8',type:'category',categoryorder:'array',categoryarray:pctLevels.slice().reverse(),tickmode:'array',tickvals:pctLevels,ticktext:pctLevels,side:'right',showline:false,showgrid:false,zeroline:false,ticks:'',tickfont:{family:font,size:5.5,color:'#333'}},
 xaxis9:x9,yaxis9:Object.assign(y9,{anchor:'x9'}),xaxis10:x10,yaxis10:Object.assign(y10,{anchor:'x10'}),
 xaxis11:{domain:dX(652.8,668.8),range:[0,1],visible:false},
 yaxis11:{domain:dY(758.5,860.5),anchor:'x11',type:'category',categoryorder:'array',categoryarray:cellTypes.slice().reverse(),tickmode:'array',tickvals:cellTypes,ticktext:cellTypes,side:'right',showline:false,showgrid:false,zeroline:false,ticks:'',tickfont:{family:font,size:14,color:'#222'}},
 xaxis12:x12,yaxis12:Object.assign(y12,{anchor:'x12'}),
 polar:{domain:{x:dX(15,334),y:dY(10.5,329.5)},bgcolor:'rgba(0,0,0,0)',barmode:'overlay',bargap:0,
  radialaxis:{visible:false,range:[0,159.5]},
  angularaxis:{rotation:90,direction:'clockwise',showgrid:false,showline:false,ticks:'outside',ticklen:2.5,tickwidth:0.6,tickcolor:'#444',tickmode:'array',tickvals:tickV,ticktext:tickT,tickfont:{family:font,size:3.5,color:'#555'}}}
};
Plotly.newPlot('chart',traces,layout,{staticPlot:true,displayModeBar:false});
</script></body></html>
